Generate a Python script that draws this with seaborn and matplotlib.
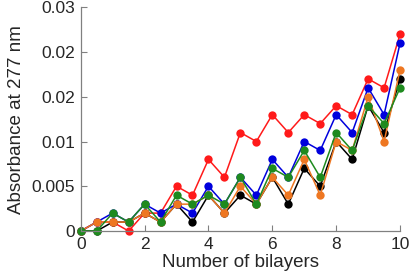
import numpy as np
import pandas as pd
import matplotlib
matplotlib.use('Agg')
import matplotlib.pyplot as plt
import seaborn as sns

# 데이터
bilayers = [0, 0.5, 1, 1.5, 2, 2.5, 3, 3.5, 4, 4.5, 5, 5.5, 6, 6.5, 7, 7.5, 8, 8.5, 9, 9.5, 10]
red = [0, 0.001, 0.001, 0, 0.002, 0.002, 0.005, 0.004, 0.008, 0.006, 0.011,
       0.010, 0.013, 0.011, 0.013, 0.012, 0.014, 0.013, 0.017, 0.016, 0.022]
black = [0, 0, 0.001, 0.001, 0.002, 0.001, 0.003, 0.001, 0.004, 0.002, 0.004,
         0.003, 0.006, 0.003, 0.007, 0.005, 0.010, 0.008, 0.014, 0.011, 0.017]
blue = [0, 0.001, 0.002, 0.001, 0.003, 0.002, 0.003, 0.002, 0.005, 0.003, 0.006,
        0.004, 0.008, 0.006, 0.010, 0.009, 0.013, 0.011, 0.016, 0.013, 0.021]
orange = [0, 0.001, 0.001, 0.001, 0.002, 0.001, 0.003, 0.003, 0.004, 0.002, 0.005,
          0.003, 0.006, 0.004, 0.008, 0.004, 0.010, 0.009, 0.015, 0.010, 0.018]
green = [0, 0, 0.002, 0.001, 0.003, 0.001, 0.004, 0.003, 0.004, 0.003, 0.006,
         0.003, 0.007, 0.006, 0.009, 0.006, 0.011, 0.009, 0.014, 0.012, 0.016]

series_names = ['red', 'black', 'blue', 'orange', 'green']
series_colors = {'red': '#ff1a1a', 'black': '#000000', 'blue': '#0000dd',
                 'orange': '#ee7722', 'green': '#1e8a1e'}
y_ticks = [0, 0.005, 0.01, 0.015, 0.02, 0.025]
y_labels = ['0', '0.005', '0.01', '0.02', '0.02', '0.03']
x_ticks = [0, 2, 4, 6, 8, 10]

df = pd.DataFrame({
    'x': bilayers * 5,
    'y': red + black + blue + orange + green,
    'series': np.repeat(series_names, len(bilayers)),
})

sns.set_style("ticks")
plt.rcParams['font.family'] = ['Liberation Sans', 'DejaVu Sans']

fig = plt.figure(figsize=(4.15, 2.79), dpi=100)
ax = fig.add_axes([0.1945, 0.172, 0.7695, 0.802])

sns.lineplot(data=df, x='x', y='y', hue='series', hue_order=series_names,
             palette=series_colors, marker='o', markersize=6,
             markeredgewidth=0, linewidth=1.1, legend=False, ax=ax,
             clip_on=False)

ax.set_xlim(0, 10)
ax.set_ylim(0, 0.025)
ax.set_xticks(x_ticks)
ax.set_yticks(y_ticks)
ax.set_yticklabels(y_labels)
ax.tick_params(direction='in', length=4.5, width=0.8, color='#808080',
               labelsize=12.5, pad=4)
for s in ['top', 'right']:
    ax.spines[s].set_visible(False)
for s in ['left', 'bottom']:
    ax.spines[s].set_color('#808080')
    ax.spines[s].set_linewidth(0.9)

ax.set_xlabel('Number of bilayers', fontsize=13.5, labelpad=2)
ax.set_ylabel('Absorbance at 277 nm', fontsize=13.5, labelpad=5)

fig.savefig('out.png', dpi=100)
